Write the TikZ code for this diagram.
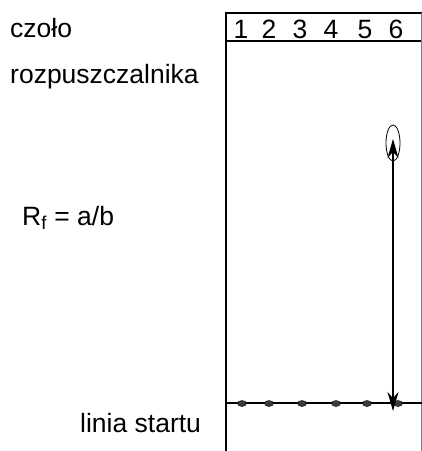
\documentclass[tikz,border=0pt]{standalone}
\usepackage{fontspec}
\setmainfont{Liberation Sans}
\usepackage{xcolor}
\usetikzlibrary{shapes,arrows.meta,positioning,calc}
\definecolor{spotgray}{RGB}{60,60,60}
\tikzset{
    label/.style={anchor=base west, inner sep=0pt, font=\fontsize{26.5}{30}\selectfont},
    lane/.style={anchor=base, inner sep=0pt, font=\fontsize{26.5}{30}\selectfont},
    spot/.style={ellipse, draw, fill=spotgray, minimum width=9pt, minimum height=6pt, inner sep=0pt},
    frame/.style={draw, line width=1.1pt},
    measure/.style={draw, line width=1.1pt, {Stealth[length=19pt,width=11pt]}-{Stealth[length=19pt,width=11pt]}}
}

\begin{document}
\begin{tikzpicture}[x=1pt, y=-1pt]
    \useasboundingbox (0,0) rectangle (422,451);
    % Plate frame
    \draw [frame] (226,451) -- (226,13) -- (422,13);
    \draw [frame] (226,41) -- (422,41);
    \draw [draw=gray, line width=0.6pt] (421,13) -- (421,451);
    \draw [frame] (226,403) -- (422,403);

    % Labels
    \node [label] (front) at (10,37) {czoło};
    \node [label] (solvent) at (10,83) {rozpuszczalnika};
    \node [label] (rf) at (22,225) {R\textsubscript{f} = a/b};
    \node [label] (startline) at (80,432) {linia startu};

    % Lanes and start spots
    \foreach \n/\x/\d in {1/241/242, 2/269/269, 3/300/302, 4/331/336, 5/365/367, 6/396/398} {
        \node [lane] (lane\n) at (\x,38) {\n};
        \node [spot] (s\n) at (\d,403.5) {};
    }

    % Developed spot and distance
    \node [ellipse, draw, line width=0.8pt, minimum width=14pt, minimum height=36pt, inner sep=0pt] (top) at (393,143) {};
    \coordinate (a) at (393,139);
    \coordinate (b) at (393,411);
    \path [measure] (b) -- (a);
\end{tikzpicture}
\end{document}
